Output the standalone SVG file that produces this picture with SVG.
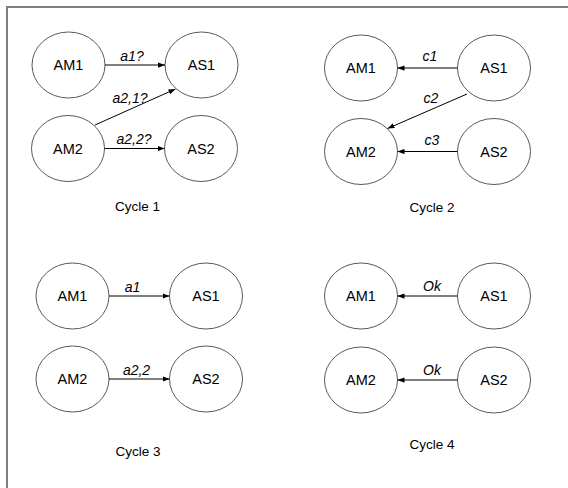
<svg xmlns="http://www.w3.org/2000/svg" width="568" height="488" viewBox="0 0 568 488">
<style>
.node ellipse{fill:#fff;stroke:#595959;stroke-width:1}
.node text{font-family:"Liberation Sans",Arial,sans-serif;font-size:14.5px;fill:#000;text-anchor:middle;dominant-baseline:central}
.edge{stroke:#000;stroke-width:1;fill:none;marker-end:url(#ah)}
.lbl{font-family:"Liberation Sans",Arial,sans-serif;font-style:italic;font-size:14px;fill:#000;text-anchor:middle}
.cap{font-family:"Liberation Sans",Arial,sans-serif;font-size:13.5px;fill:#000;text-anchor:middle}
</style>
<defs>
<marker id="ah" viewBox="0 0 8 6" refX="8" refY="3" markerWidth="7" markerHeight="5.5" markerUnits="userSpaceOnUse" orient="auto">
<path d="M0,0 L8,3 L0,6 Z" fill="#000"/>
</marker>
</defs>
<rect width="568" height="488" fill="#fff"/>
<path d="M7,488 V7 H568" fill="none" stroke="#7f7f7f" stroke-width="2"/>

<!-- Cycle 1 -->
<g id="c1-am1" class="node"><ellipse cx="68.5" cy="65" rx="36.5" ry="33"/><text x="68.5" y="65">AM1</text></g>
<g id="c1-as1" class="node"><ellipse cx="201.5" cy="65" rx="36.5" ry="33"/><text x="201.5" y="65">AS1</text></g>
<g id="c1-am2" class="node"><ellipse cx="68" cy="148.5" rx="36.5" ry="33"/><text x="68" y="148.5">AM2</text></g>
<g id="c1-as2" class="node"><ellipse cx="201" cy="148.5" rx="36.5" ry="33"/><text x="201" y="148.5">AS2</text></g>

<!-- Cycle 2 -->
<g id="c2-am1" class="node"><ellipse cx="361" cy="68" rx="36.5" ry="33"/><text x="361" y="68">AM1</text></g>
<g id="c2-as1" class="node"><ellipse cx="494" cy="68" rx="36.5" ry="33"/><text x="494" y="68">AS1</text></g>
<g id="c2-am2" class="node"><ellipse cx="361" cy="151.5" rx="36.5" ry="33"/><text x="361" y="151.5">AM2</text></g>
<g id="c2-as2" class="node"><ellipse cx="494" cy="151.5" rx="36.5" ry="33"/><text x="494" y="151.5">AS2</text></g>

<!-- Cycle 3 -->
<g id="c3-am1" class="node"><ellipse cx="72.5" cy="296" rx="36.5" ry="33"/><text x="72.5" y="296">AM1</text></g>
<g id="c3-as1" class="node"><ellipse cx="206" cy="296" rx="36.5" ry="33"/><text x="206" y="296">AS1</text></g>
<g id="c3-am2" class="node"><ellipse cx="72.5" cy="379" rx="36.5" ry="33"/><text x="72.5" y="379">AM2</text></g>
<g id="c3-as2" class="node"><ellipse cx="206" cy="379" rx="36.5" ry="33"/><text x="206" y="379">AS2</text></g>

<!-- Cycle 4 -->
<g id="c4-am1" class="node"><ellipse cx="361" cy="296" rx="36.5" ry="33"/><text x="361" y="296">AM1</text></g>
<g id="c4-as1" class="node"><ellipse cx="494" cy="296" rx="36.5" ry="33"/><text x="494" y="296">AS1</text></g>
<g id="c4-am2" class="node"><ellipse cx="361" cy="380" rx="36.5" ry="33"/><text x="361" y="380">AM2</text></g>
<g id="c4-as2" class="node"><ellipse cx="494" cy="380" rx="36.5" ry="33"/><text x="494" y="380">AS2</text></g>

<g id="connectors">
<line class="edge" x1="105" y1="65" x2="165" y2="65"/>
<line class="edge" x1="95" y1="125" x2="175.5" y2="89"/>
<line class="edge" x1="104.5" y1="148.5" x2="164.5" y2="148.5"/>

<line class="edge" x1="457.5" y1="68" x2="397.5" y2="68"/>
<line class="edge" x1="467" y1="94" x2="387.5" y2="128.5"/>
<line class="edge" x1="457.5" y1="151.5" x2="397.5" y2="151.5"/>

<line class="edge" x1="109" y1="296" x2="169.5" y2="296"/>
<line class="edge" x1="109" y1="379" x2="169.5" y2="379"/>

<line class="edge" x1="457.5" y1="296" x2="397.5" y2="296"/>
<line class="edge" x1="457.5" y1="380" x2="397.5" y2="380"/>
</g>

<g id="labels">
<text class="lbl" x="132" y="61">a1?</text>
<text class="lbl" x="130" y="103">a2,1?</text>
<text class="lbl" x="134" y="144">a2,2?</text>
<text class="lbl" x="430" y="61">c1</text>
<text class="lbl" x="431" y="103">c2</text>
<text class="lbl" x="432" y="145">c3</text>
<text class="lbl" x="132.5" y="292">a1</text>
<text class="lbl" x="136.5" y="375">a2,2</text>
<text class="lbl" x="432" y="291">Ok</text>
<text class="lbl" x="432" y="375">Ok</text>
<text class="cap" x="137.5" y="211">Cycle 1</text>
<text class="cap" x="432" y="212">Cycle 2</text>
<text class="cap" x="138" y="456">Cycle 3</text>
<text class="cap" x="432" y="449">Cycle 4</text>
</g>
</svg>
